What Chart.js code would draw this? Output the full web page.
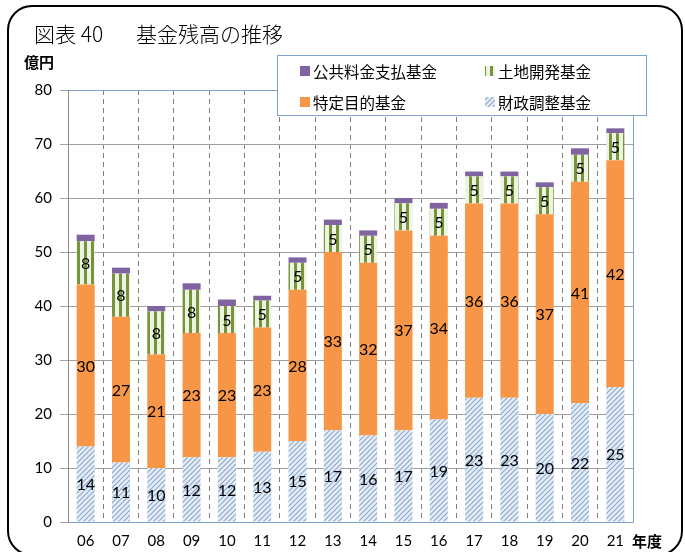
<!DOCTYPE html>
<html lang="ja">
<head>
<meta charset="utf-8">
<title>基金残高の推移</title>
<script src="https://cdn.jsdelivr.net/npm/chart.js@4"></script>
<style>
  html, body { margin: 0; padding: 0; background: #fff; }
</style>
</head>
<body>
<canvas id="fundChart" width="685" height="552"></canvas>
<script>
// 年度
const years = ['06', '07', '08', '09', '10', '11', '12', '13', '14', '15', '16', '17', '18', '19', '20', '21'];
// 億円
const zaiseiChosei = [14, 11, 10, 12, 12, 13, 15, 17, 16, 17, 19, 23, 23, 20, 22, 25];
const tokuteiMokuteki = [30, 27, 21, 23, 23, 23, 28, 33, 32, 37, 34, 36, 36, 37, 41, 42];
const tochiKaihatsu = [8, 8, 8, 8, 5, 5, 5, 5, 5, 5, 5, 5, 5, 5, 5, 5];
const kokyoRyokin = [1.2, 1.1, 1.0, 1.2, 1.2, 0.9, 1.0, 1.0, 1.0, 1.0, 1.1, 0.9, 0.9, 0.9, 1.2, 0.9];
const yMax = 80;
const yStep = 10;

const NUM_FONT = 'Lato, "DejaVu Sans", sans-serif';
const JP_FONT = '"Noto Sans CJK JP", sans-serif';

// 斜線パターン（財政調整基金）
function makeHatch() {
  const s = 5;
  const c = document.createElement('canvas');
  c.width = s; c.height = s;
  const g = c.getContext('2d');
  g.fillStyle = '#e6edf6';
  g.fillRect(0, 0, s, s);
  g.strokeStyle = '#8aa9ce';
  g.lineWidth = 1.2;
  g.beginPath();
  g.moveTo(0, s); g.lineTo(s, 0);
  g.moveTo(-1, 1); g.lineTo(1, -1);
  g.moveTo(s - 1, s + 1); g.lineTo(s + 1, s - 1);
  g.stroke();
  return g.createPattern(c, 'repeat');
}

// 縦縞パターン（土地開発基金）
function makeStripes() {
  const c = document.createElement('canvas');
  c.width = 7; c.height = 4;
  const g = c.getContext('2d');
  g.fillStyle = '#edf3e1';
  g.fillRect(0, 0, 7, 4);
  g.fillStyle = '#77933c';
  g.fillRect(0, 0, 3, 4);
  return g.createPattern(c, 'repeat');
}

const hatch = makeHatch();
const stripes = makeStripes();

const decor = {
  id: 'decor',
  beforeDraw(chart) {
    const ctx = chart.ctx;
    ctx.save();
    ctx.fillStyle = '#fff';
    ctx.fillRect(0, 0, chart.width, chart.height);
    ctx.restore();
  },
  beforeDatasetsDraw(chart) {
    const { ctx, chartArea: a } = chart;
    ctx.save();
    ctx.lineWidth = 1;
    ctx.strokeStyle = '#7ea3d2';
    ctx.beginPath();
    ctx.moveTo(a.left, a.top + 0.5);
    ctx.lineTo(a.right + 0.5, a.top + 0.5);
    ctx.lineTo(a.right + 0.5, a.bottom + 0.5);
    ctx.lineTo(a.left, a.bottom + 0.5);
    ctx.stroke();
    ctx.strokeStyle = '#8c8c8c';
    ctx.beginPath();
    ctx.moveTo(a.left + 0.5, a.top);
    ctx.lineTo(a.left + 0.5, a.bottom);
    ctx.stroke();
    ctx.restore();
  },
  afterDatasetsDraw(chart) {
    const ctx = chart.ctx;
    ctx.save();
    ctx.font = '16px ' + NUM_FONT;
    ctx.fillStyle = '#000';
    ctx.textAlign = 'center';
    ctx.textBaseline = 'middle';
    chart.data.datasets.forEach((ds, i) => {
      if (!ds.showValue) return;
      chart.getDatasetMeta(i).data.forEach((bar, j) => {
        const p = bar.getProps(['x', 'y', 'base'], true);
        ctx.fillText(String(ds.data[j]), p.x, (p.y + p.base) / 2 + 1);
      });
    });
    ctx.restore();
  },
  afterDraw(chart) {
    const ctx = chart.ctx;
    ctx.save();

    // 凡例
    ctx.fillStyle = '#fff';
    ctx.fillRect(277, 55, 369, 60);
    ctx.strokeStyle = '#7ea3d2';
    ctx.lineWidth = 1;
    ctx.strokeRect(277.5, 55.5, 369, 60);
    const order = [
      ['公共料金支払基金', 300, 71],
      ['土地開発基金', 485, 71],
      ['特定目的基金', 300, 102],
      ['財政調整基金', 485, 102]
    ];
    ctx.font = '15.5px ' + JP_FONT;
    ctx.textBaseline = 'middle';
    ctx.textAlign = 'left';
    order.forEach(([label, x, y]) => {
      const ds = chart.data.datasets.find(d => d.label === label);
      ctx.fillStyle = ds.backgroundColor;
      ctx.fillRect(x, y - 5, 10, 10);
      ctx.fillStyle = '#000';
      ctx.fillText(label, x + 13, y + 1);
    });

    // 表題・単位
    ctx.fillStyle = '#000';
    ctx.font = '300 21px ' + JP_FONT;
    ctx.textBaseline = 'middle';
    ctx.fillText('図表 40', 34, 34);
    ctx.fillText('基金残高の推移', 136, 34);
    ctx.font = 'bold 15px ' + JP_FONT;
    ctx.fillText('億円', 24, 62);
    ctx.fillText('年度', 632, 541);

    // 外枠
    ctx.strokeStyle = '#000';
    ctx.lineWidth = 2;
    ctx.beginPath();
    ctx.roundRect(8, 6, 674, 549, 24);
    ctx.stroke();
    ctx.restore();
  }
};

new Chart(document.getElementById('fundChart'), {
  type: 'bar',
  data: {
    labels: years,
    datasets: [
      { label: '財政調整基金', data: zaiseiChosei, backgroundColor: hatch, showValue: true },
      { label: '特定目的基金', data: tokuteiMokuteki, backgroundColor: '#f79646', showValue: true },
      { label: '土地開発基金', data: tochiKaihatsu, backgroundColor: stripes, showValue: true },
      { label: '公共料金支払基金', data: kokyoRyokin, backgroundColor: '#8064a2', showValue: false }
    ]
  },
  options: {
    responsive: false,
    animation: false,
    devicePixelRatio: 1,
    layout: { padding: { top: 90, right: 52, bottom: 0, left: 0 } },
    datasets: { bar: { categoryPercentage: 1, barPercentage: 0.51 } },
    plugins: { legend: { display: false }, tooltip: { enabled: false } },
    scales: {
      x: {
        stacked: true,
        grid: { offset: true, color: '#808080', drawTicks: false },
        border: { display: false, dash: [5, 4] },
        ticks: { color: '#000', font: { family: NUM_FONT, size: 15 }, padding: 10 },
        afterFit(scale) { scale.height = 30; }
      },
      y: {
        stacked: true,
        min: 0,
        max: yMax,
        grid: { color: '#a0a0a0', tickLength: 8 },
        border: { display: false },
        ticks: { stepSize: yStep, color: '#000', font: { family: NUM_FONT, size: 15 }, padding: 8 },
        afterFit(scale) { scale.width = 68; }
      }
    }
  },
  plugins: [decor]
});
</script>
</body>
</html>
